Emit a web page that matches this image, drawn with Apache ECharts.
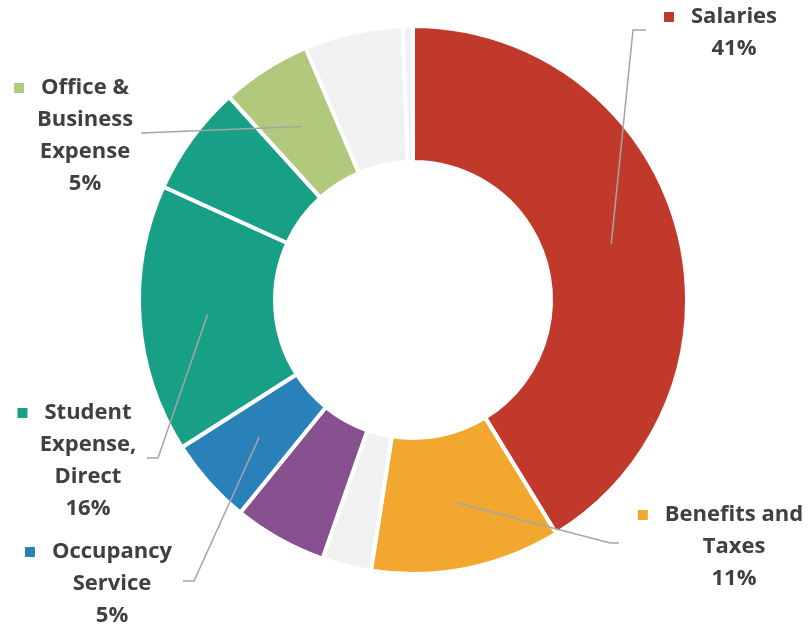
<!DOCTYPE html>
<html><head><meta charset="utf-8">
<script src="https://cdn.jsdelivr.net/npm/echarts@6/dist/echarts.min.js"></script>
<style>html,body{margin:0;padding:0;background:#fff}#c{width:810px;height:627px}</style>
</head><body><div id="c"></div>
<script>
// ---- data ----
const categories = ['Salaries', 'Benefits and Taxes', 'Other 1', 'Other 2', 'Occupancy Service',
  'Student Expense, Direct', 'Other 3', 'Office & Business Expense', 'Other 4', 'Other 5'];
const values = [41.2, 11.2, 2.9, 5.5, 5.1, 15.8, 6.5, 5.3, 5.8, 0.6];
const showLabel = [true, true, false, false, true, true, false, true, false, false];
const labelText = {
  0: ['Salaries'],
  1: ['Benefits and', 'Taxes'],
  4: ['Occupancy', 'Service'],
  5: ['Student', 'Expense,', 'Direct'],
  7: ['Office &', 'Business', 'Expense']
};
const colors = ['#C0392B', '#F2A82F', '#F1F1F1', '#87508E', '#2A80B9', '#17A086', '#17A086', '#B0C97C', '#F1F1F1', '#F1F1F1'];

// ---- layout (not data) ----
const CX = 413, CY = 300, R_IN = 138, R_OUT = 274;
const place = {
  0: { x: 734, y: 1,   elbow: [633, 30],  end: [646, 30] },
  1: { x: 734, y: 499, elbow: [610, 543], end: [619, 543] },
  4: { x: 112, y: 536, elbow: [194, 581], end: [183, 581] },
  5: { x: 88,  y: 397, elbow: [158, 458], end: [147, 458] },
  7: { x: 85,  y: 72,  elbow: [141, 133], end: [141, 133] }
};

const chart = echarts.init(document.getElementById('c'), null, { renderer: 'canvas' });

const rich = {
  b: { fontSize: 22, fontWeight: 'bold', color: '#404040', lineHeight: 32, fontFamily: 'Open Sans' },
  g: { width: 17 },
  g2: { width: 27 }
};
colors.forEach((c, i) => { rich['m' + i] = { width: 10, height: 10, backgroundColor: c }; });

function midAngle(idx) {
  const total = values.reduce((a, b) => a + b, 0);
  let acc = 0;
  for (let i = 0; i < idx; i++) acc += values[i];
  const a0 = -Math.PI / 2 + acc / total * Math.PI * 2;
  const a1 = a0 + values[idx] / total * Math.PI * 2;
  return (a0 + a1) / 2;
}

const baseData = categories.map((name, i) => ({ name: name, value: values[i], itemStyle: { color: colors[i] } }));
const labelData = categories.map((name, i) => {
  const d = { name: name, value: values[i] };
  if (!showLabel[i]) { d.label = { show: false }; d.labelLine = { show: false }; }
  return d;
});

chart.setOption({
  animation: false,
  backgroundColor: '#fff',
  series: [{
    type: 'pie',
    z: 2,
    center: [CX, CY],
    radius: [R_IN, R_OUT],
    startAngle: 90,
    clockwise: true,
    itemStyle: { borderColor: '#fff', borderWidth: 4 },
    emphasis: { disabled: true },
    label: { show: false },
    labelLine: { show: false },
    data: baseData
  }, {
    type: 'pie',
    z: 5,
    center: [CX, CY],
    radius: [R_IN, R_OUT],
    startAngle: 90,
    clockwise: true,
    silent: true,
    avoidLabelOverlap: false,
    itemStyle: { color: 'rgba(0,0,0,0)', borderWidth: 0 },
    emphasis: { disabled: true },
    data: labelData,
    label: {
      show: true,
      position: 'outside',
      align: 'center',
      formatter: function (p) {
        const lines = labelText[p.dataIndex] || [p.name];
        let s = '{m' + p.dataIndex + '|}{g|}{b|' + lines[0] + '}{g2|}';
        for (let k = 1; k < lines.length; k++) s += '\n{b|' + lines[k] + '}';
        s += '\n{b|' + Math.round(p.percent) + '%}';
        return s;
      },
      rich: rich
    },
    labelLine: { show: true, lineStyle: { color: '#A5A5A5', width: 1.5 } },
    labelLayout: function (params) {
      const i = params.dataIndex;
      const pl = place[i];
      if (!pl) return {};
      let cx = CX, cy = CY, ang = midAngle(i), rm = (R_IN + R_OUT) / 2;
      try {
        const lay = chart.getModel().getSeriesByIndex(1).getData().getItemLayout(i);
        if (lay && isFinite(lay.startAngle)) {
          cx = lay.cx; cy = lay.cy;
          ang = (lay.startAngle + lay.endAngle) / 2;
          rm = (lay.r + lay.r0) / 2;
        }
      } catch (e) {}
      const anchor = [cx + rm * Math.cos(ang), cy + rm * Math.sin(ang)];
      return {
        x: pl.x, y: pl.y, align: 'center', verticalAlign: 'top',
        labelLinePoints: [anchor, pl.elbow, pl.end]
      };
    }
  }]
});
</script>
</body></html>
